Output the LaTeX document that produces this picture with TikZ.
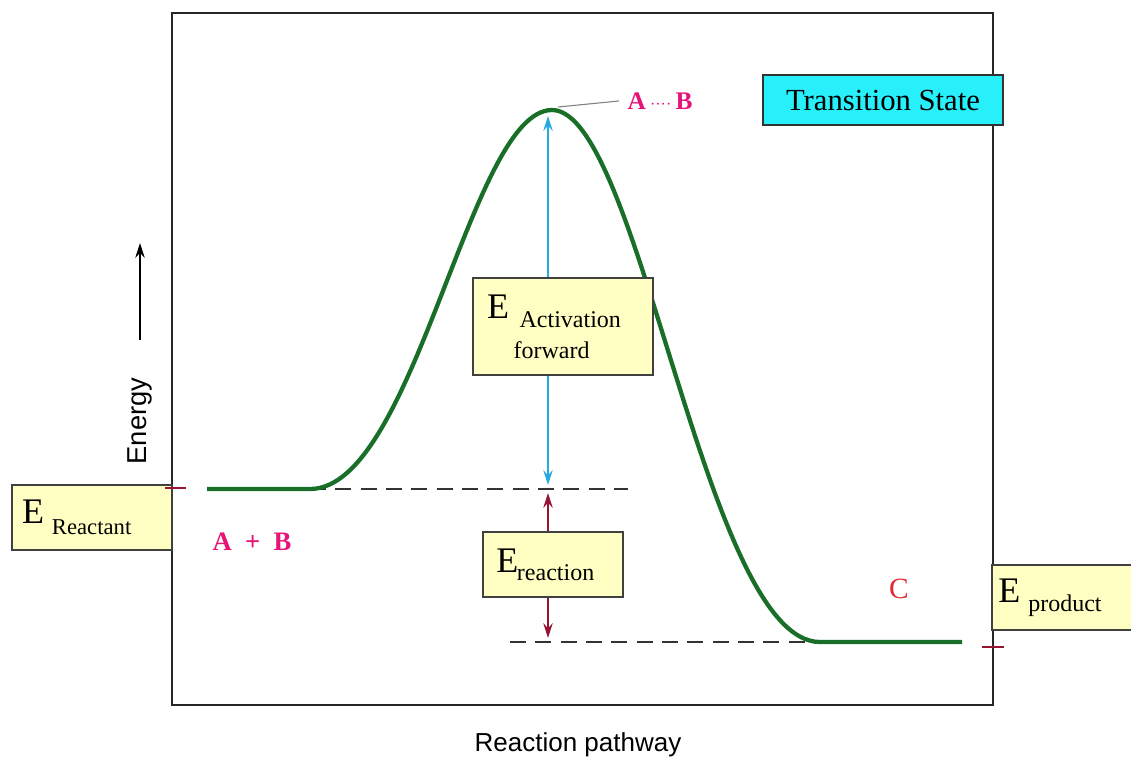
\documentclass[tikz,border=0pt]{standalone}
\usepackage{fontspec}
\setmainfont{Liberation Serif}
\setsansfont{Liberation Sans}
\usepackage{xcolor}
\usetikzlibrary{arrows.meta}
\definecolor{curvegreen}{RGB}{25,110,40}
\definecolor{boxyellow}{RGB}{255,255,195}
\definecolor{tscyan}{RGB}{40,240,250}
\definecolor{pinklab}{RGB}{230,20,120}
\definecolor{actblue}{RGB}{40,170,225}
\definecolor{rxnred}{RGB}{150,20,50}
\definecolor{prodred}{RGB}{225,40,50}
\newcommand{\bigE}{\fontsize{27}{29}\selectfont E}
\newcommand{\subsz}{\fontsize{18}{20}\selectfont}

\begin{document}
\begin{tikzpicture}[x=0.75pt, y=-0.75pt, >={Stealth[length=11pt, width=7pt]},
  ebox/.style={draw=black!75, line width=1.3pt, fill=boxyellow, align=left, inner ysep=0pt, minimum height=48.75pt},
  level/.style={black!80, line width=1.8pt, dash pattern=on 12pt off 7pt},
  lab/.style={text=pinklab, font=\bfseries\fontsize{19}{21}\selectfont}]
\useasboundingbox (0,0) rectangle (1131,764);
\draw[line width=2.2pt, black!85] (172,13) rectangle (993,705);

\coordinate (r0) at (207,489);
\coordinate (r1) at (310,489);
\coordinate (ts) at (552,110);
\coordinate (p0) at (820,642);
\coordinate (p1) at (962,642);
\coordinate (rdash) at (628,489);
\coordinate (pdash) at (510,642);
\draw[level] (r1) -- (rdash);
\draw[level] (pdash) -- (p0);
\draw[curvegreen, line width=3.2pt] (r0) -- (r1) .. controls (415,489) and (470,110) .. (ts)
  .. controls (640,110) and (705,642) .. (p0) -- (p1);

\coordinate (atop) at (548,116);
\coordinate (abot) at (548,485);
\coordinate (rtop) at (548,493);
\coordinate (rbot) at (548,638);
\draw[actblue, line width=1.3pt, <->] (atop) -- (abot);
\draw[rxnred, line width=1.3pt, <->] (rtop) -- (rbot);

\node[ebox, inner xsep=10.5pt, text width=114pt, minimum height=72.75pt] (act) at (563,326.5)
  {{\bigE}\hspace{8pt}\raisebox{-7pt}{\subsz Activation}\\[9pt]\hspace*{20pt}{\subsz forward}};
\node[ebox, inner xsep=10pt, text width=85pt] (rxn) at (553,564.5)
  {{\bigE}\kern-1pt\raisebox{-6pt}{\subsz reaction}};
\node[ebox, inner xsep=7.5pt, text width=105pt] (reac) at (92,517.5)
  {{\bigE}\hspace{6pt}\raisebox{-8pt}{\fontsize{17}{19}\selectfont Reactant}};
\node[ebox, inner xsep=5pt, text width=100pt] (prod) at (1065,597.5)
  {{\bigE}\hspace{6pt}\raisebox{-7pt}{\subsz product}};

\draw[rxnred, line width=2pt] (165,488) -- (186,488);
\draw[rxnred, line width=2pt] (982,647) -- (1004,647);

\node[draw=black!80, line width=1.3pt, fill=tscyan, minimum width=180pt, minimum height=37.5pt,
  font=\fontsize{23}{25}\selectfont] (tstate) at (883,100) {Transition State};
\node[lab] (AB) at (660,101) {A\,{\mdseries\fontsize{12}{12}\selectfont····}\,B};
\coordinate (tsl) at (558,107);
\draw[gray, line width=0.8pt] (tsl) -- ([xshift=-3pt]AB.west);
\node[lab, font=\bfseries\fontsize{20}{22}\selectfont] (AplusB) at (252,542) {A \ + \ B};
\node[text=prodred, font=\fontsize{22}{24}\selectfont] (C) at (899,589) {C};

\node[rotate=90, font=\sffamily\fontsize{20.5}{22}\selectfont] (energy) at (140,421) {Energy};
\coordinate (eb) at (140,340);
\coordinate (et) at (140,243);
\draw[line width=1.5pt, ->] (eb) -- (et);
\node[font=\sffamily\fontsize{19.5}{21}\selectfont] (xlab) at (578,745) {Reaction pathway};
\end{tikzpicture}
\end{document}
